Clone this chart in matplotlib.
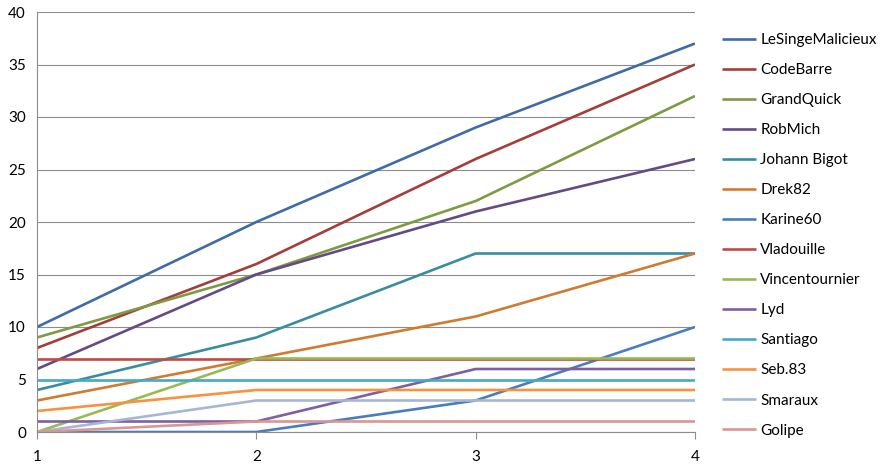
import matplotlib
matplotlib.use("Agg")
import matplotlib.pyplot as plt

# rounds / scores
rounds = [1, 2, 3, 4]

players = ["LeSingeMalicieux", "CodeBarre", "GrandQuick", "RobMich", "Johann Bigot",
           "Drek82", "Karine60", "Vladouille", "Vincentournier", "Lyd", "Santiago",
           "Seb.83", "Smaraux", "Golipe"]

lesinge = [10, 20, 29, 37]
codebarre = [8, 16, 26, 35]
grandquick = [9, 15, 22, 32]
robmich = [6, 15, 21, 26]
johann = [4, 9, 17, 17]
drek = [3, 7, 11, 17]
karine = [0, 0, 3, 10]
vladouille = [7, 7, 7, 7]
vincent = [0, 7, 7, 7]
lyd = [1, 1, 6, 6]
santiago = [5, 5, 5, 5]
seb = [2, 4, 4, 4]
smaraux = [0, 3, 3, 3]
golipe = [0, 1, 1, 1]

scores = [lesinge, codebarre, grandquick, robmich, johann, drek, karine,
          vladouille, vincent, lyd, santiago, seb, smaraux, golipe]

colors = ["#3F6CA6", "#A43E3B", "#7E9A45", "#654B86", "#3A8DA1", "#D07B32",
          "#4A7EBB", "#BE4B48", "#98B954", "#7D60A0", "#46AAC5", "#F69240",
          "#A5B6D6", "#D99694"]

plt.rcParams['font.family'] = ['Lato', 'DejaVu Sans']

fig = plt.figure(figsize=(8.87, 4.66), dpi=100)
ax = fig.add_axes([37/887, 1-432/466, (695-37)/887, (432-12)/466])

for name, s, c in zip(players, scores, colors):
    ax.plot(rounds, s, color=c, lw=1.9, label=name, solid_capstyle='butt')

ax.set_xlim(1, 4)
ax.set_ylim(0, 40)
ax.set_xticks(rounds)
ax.set_yticks(range(0, 41, 5))
ax.yaxis.grid(True, color="#8C8C8C", lw=0.8)
ax.set_axisbelow(True)
for side in ["top", "right"]:
    ax.spines[side].set_visible(False)
ax.spines["left"].set_color("#8C8C8C")
ax.spines["bottom"].set_color("#8C8C8C")
ax.tick_params(axis="y", length=0, labelsize=11, pad=8)
ax.tick_params(axis="x", length=5, color="#8C8C8C", labelsize=11, pad=8)

ax.legend(loc="upper left", bbox_to_anchor=(722/887, 1-33/466), bbox_transform=fig.transFigure,
          frameon=False, fontsize=11, handlelength=2.2, handletextpad=0.3,
          labelspacing=1.05, borderaxespad=0, borderpad=0)

fig.savefig("out.png", dpi=100)
